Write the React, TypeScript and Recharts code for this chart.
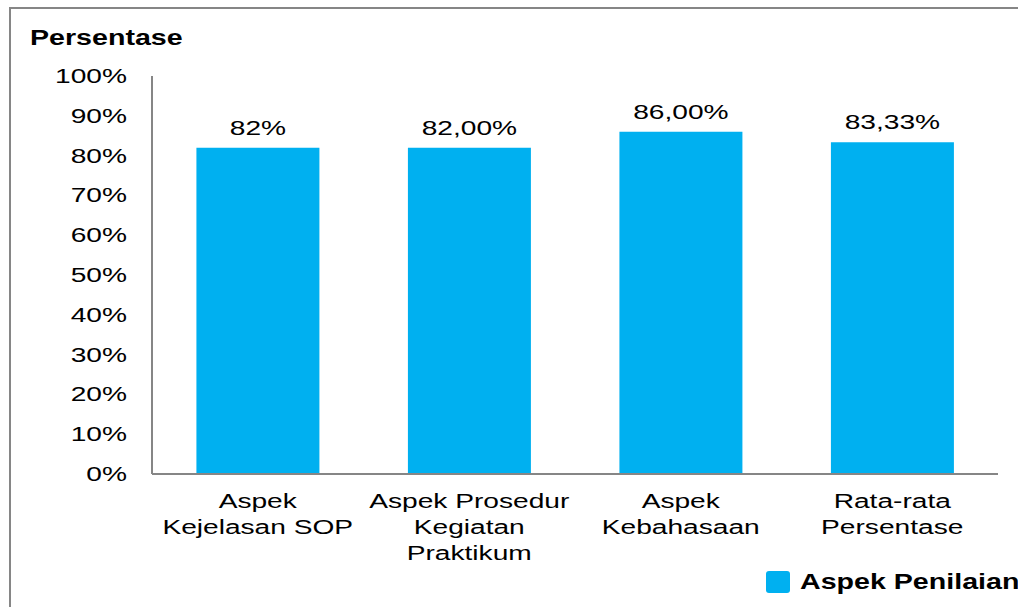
import { BarChart, Bar, XAxis, YAxis, LabelList } from "recharts";

const categories = [
  ["Aspek", "Kejelasan SOP"],
  ["Aspek Prosedur", "Kegiatan", "Praktikum"],
  ["Aspek", "Kebahasaan"],
  ["Rata-rata", "Persentase"],
];
const values = [82, 82, 86, 83.33];
const valueLabels = ["82%", "82,00%", "86,00%", "83,33%"];
const yTicks = [0, 10, 20, 30, 40, 50, 60, 70, 80, 90, 100];

const data = categories.map((lines, i) => ({
  name: lines.join(" "),
  value: values[i],
  label: valueLabels[i],
}));

const font = "'Liberation Sans', Arial, sans-serif";
const SX = 1.34;

function CategoryTick(props: any) {
  const { x, y, index } = props;
  const lines = categories[index] || [];
  return (
    <g transform={`translate(${x},${y})`}>
      <text transform={`scale(${SX},1)`} x={0} y={0} textAnchor="middle" fill="#000" fontSize={21} fontFamily={font}>
        {lines.map((l, i) => (
          <tspan key={i} x={0} dy={i === 0 ? 26 : 26}>
            {l}
          </tspan>
        ))}
      </text>
    </g>
  );
}

function PercentTick(props: any) {
  const { x, y, payload } = props;
  return (
    <g transform={`translate(${x},${y})`}>
      <text transform={`scale(${SX},1)`} x={0} y={0} dy={7} textAnchor="end" fill="#000" fontSize={21} fontFamily={font}>
        {`${payload.value}%`}
      </text>
    </g>
  );
}

function ValueLabel(props: any) {
  const { x, y, width, value } = props;
  return (
    <g transform={`translate(${x + width / 2},${y - 13})`}>
      <text transform={`scale(${SX},1)`} x={0} y={0} textAnchor="middle" fill="#000" fontSize={21} fontFamily={font}>
        {value}
      </text>
    </g>
  );
}

export default function App() {
  return (
    <div style={{ position: "absolute", left: 0, top: 0, width: 1018, height: 607, overflow: "hidden", background: "#fff" }}>
      <div
        style={{
          position: "absolute",
          left: 9,
          top: 7,
          width: 1100,
          height: 700,
          border: "2px solid #868686",
        }}
      />
      <div
        style={{
          position: "absolute",
          left: 30,
          top: 25,
          fontFamily: font,
          fontWeight: "bold",
          fontSize: 22,
          lineHeight: "26px",
          color: "#000",
          transform: "scaleX(1.3)",
          transformOrigin: "left top",
          whiteSpace: "nowrap",
        }}
      >
        Persentase
      </div>
      <div style={{ position: "absolute", left: 0, top: 0 }}>
        <BarChart
          width={1018}
          height={607}
          data={data}
          margin={{ top: 76, right: 20, bottom: 43, left: 52 }}
          barCategoryGap="21%"
        >
          <XAxis
            dataKey="name"
            interval={0}
            tick={<CategoryTick />}
            tickLine={false}
            axisLine={{ stroke: "#868686", strokeWidth: 2 }}
            height={90}
          />
          <YAxis
            domain={[0, 100]}
            ticks={yTicks}
            interval={0}
            tick={<PercentTick />}
            tickLine={false}
            tickSize={0}
            tickMargin={25}
            axisLine={{ stroke: "#868686", strokeWidth: 2 }}
            width={100}
          />
          <Bar dataKey="value" fill="#00B0F0" isAnimationActive={false} name="Aspek Penilaian">
            <LabelList dataKey="label" content={<ValueLabel />} />
          </Bar>
        </BarChart>
      </div>
      <div style={{ position: "absolute", left: 766, top: 569, display: "flex", alignItems: "center", fontFamily: font }}>
        <div style={{ width: 24, height: 22, background: "#00B0F0", borderRadius: 3, marginRight: 10 }} />
        <span
          style={{
            fontSize: 22,
            fontWeight: "bold",
            color: "#000",
            whiteSpace: "nowrap",
            display: "inline-block",
            transform: "scaleX(1.3)",
            transformOrigin: "left center",
          }}
        >
          Aspek Penilaian
        </span>
      </div>
    </div>
  );
}
